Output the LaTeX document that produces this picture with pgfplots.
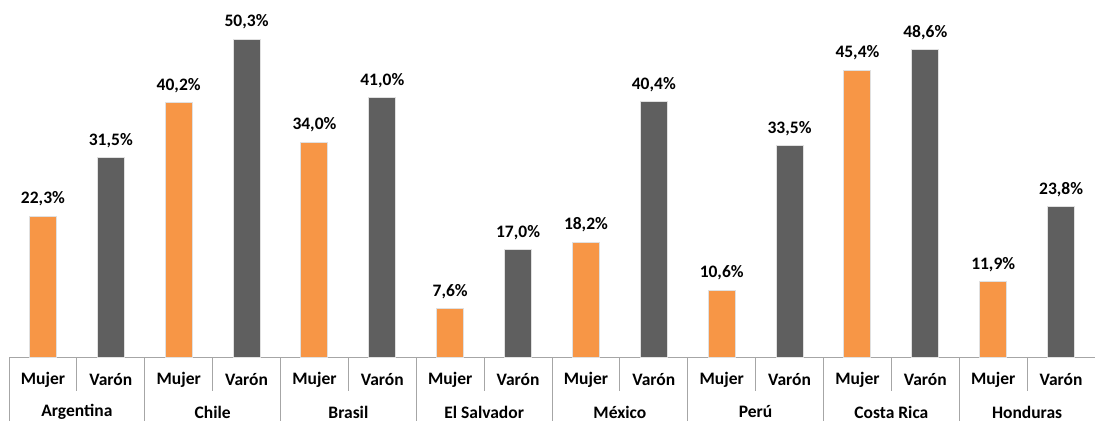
\documentclass[border=0pt]{standalone}
\usepackage{pgfplots}
\pgfplotsset{compat=1.18}
\usepackage{fontspec}
\setmainfont{Carlito}
\definecolor{orangebar}{HTML}{F79646}
\definecolor{greybar}{HTML}{5F5F5F}
\definecolor{sepline}{HTML}{A6A6A6}
\begin{document}
\begin{tikzpicture}
\useasboundingbox (-9bp,-64bp) rectangle (1086bp,357bp);
\begin{axis}[
  scale only axis,
  width=1086bp, height=357bp,
  xmin=-0.5, xmax=15.5,
  ymin=0, ymax=56.5,
  axis x line=bottom, axis y line=none,
  x axis line style={-, draw=sepline, line width=1bp},
  ybar, bar width=27bp, bar shift=0pt,
  xtick={0,...,15},
  xticklabels={Mujer,Varón,Mujer,Varón,Mujer,Varón,Mujer,Varón,Mujer,Varón,Mujer,Varón,Mujer,Varón,Mujer,Varón},
  major tick length=0pt,
  xticklabel style={font=\fontsize{17.5bp}{20bp}\selectfont\bfseries, anchor=center, yshift=-23bp},
  point meta=explicit symbolic,
  nodes near coords={\fontsize{17.5bp}{20bp}\selectfont\bfseries\pgfplotspointmeta\%},
  nodes near coords style={black, anchor=south, yshift=6bp},
  clip=false,
]
\addplot[fill=orangebar, draw=black!12, line width=1bp] coordinates {
  (0,22.3)[22,3] (2,40.2)[40,2] (4,34.0)[34,0] (6,7.6)[7,6] (8,18.2)[18,2] (10,10.6)[10,6] (12,45.4)[45,4] (14,11.9)[11,9]};
\addplot[fill=greybar, draw=black!12, line width=1bp] coordinates {
  (1,31.5)[31,5] (3,50.3)[50,3] (5,41.0)[41,0] (7,17.0)[17,0] (9,40.4)[40,4] (11,33.5)[33,5] (13,48.6)[48,6] (15,23.8)[23,8]};
\pgfplotsinvokeforeach{0.5,2.5,4.5,6.5,8.5,10.5,12.5,14.5}{
  \draw[sepline, line width=1bp] (axis cs:#1,0) -- ([yshift=-34bp]axis cs:#1,0);
}
\pgfplotsinvokeforeach{-0.5,1.5,3.5,5.5,7.5,9.5,11.5,13.5,15.5}{
  \draw[sepline, line width=1bp] (axis cs:#1,0) -- ([yshift=-64bp]axis cs:#1,0);
}
\tikzset{ctry/.style={font=\fontsize{17.5bp}{20bp}\selectfont\bfseries, anchor=center}}
\node[ctry] at ([yshift=-55bp]axis cs:0.5,0) {Argentina};
\node[ctry] at ([yshift=-55bp]axis cs:2.5,0) {Chile};
\node[ctry] at ([yshift=-55bp]axis cs:4.5,0) {Brasil};
\node[ctry] at ([yshift=-55bp]axis cs:6.5,0) {El Salvador};
\node[ctry] at ([yshift=-55bp]axis cs:8.5,0) {México};
\node[ctry] at ([yshift=-55bp]axis cs:10.5,0) {Perú};
\node[ctry] at ([yshift=-55bp]axis cs:12.5,0) {Costa Rica};
\node[ctry] at ([yshift=-55bp]axis cs:14.5,0) {Honduras};
\end{axis}
\end{tikzpicture}
\end{document}
